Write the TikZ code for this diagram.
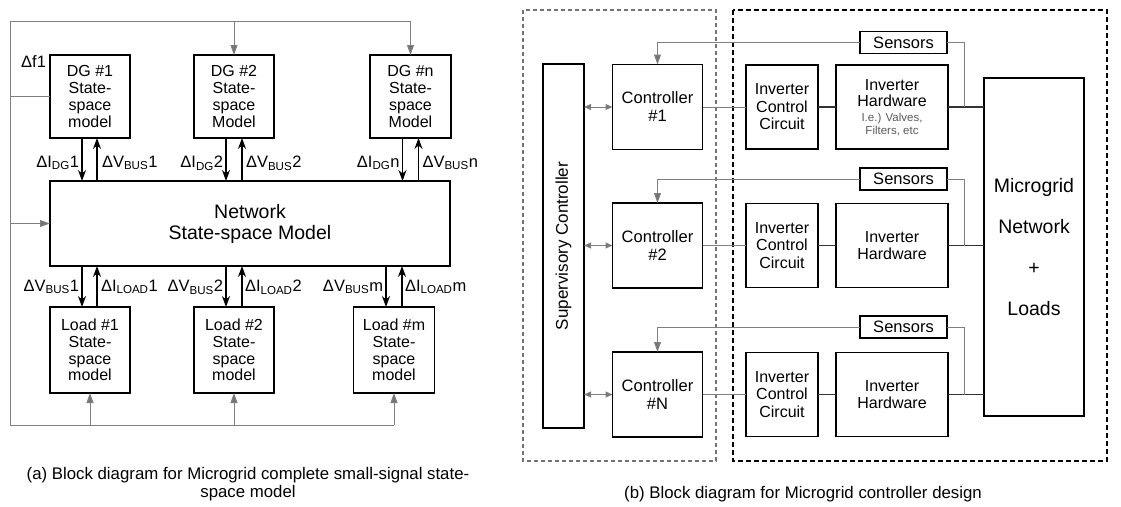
\documentclass[tikz,border=0pt]{standalone}
\usepackage{fontspec}
\setmainfont{Liberation Sans}
\usepackage{tikz}
\usetikzlibrary{calc,arrows.meta}

\begin{document}
\begin{tikzpicture}[x=1pt, y=-1pt, inner sep=0pt, outer sep=0pt,
    blk/.style={draw, line width=1.3pt, align=center, font=\fontsize{16}{16.8}\selectfont},
    lbl/.style={font=\fontsize{16.5}{18}\selectfont},
    sig/.style={line width=1.1pt, -{Stealth[length=11pt,width=8pt]}},
    fb/.style={draw=black!50, line width=1pt},
    fbarr/.style={fb, -{Triangle[length=10pt,width=7pt,fill=black!55]}},
    fbboth/.style={fb, {Triangle[length=7pt,width=6pt,fill=black!55]}-{Triangle[length=7pt,width=6pt,fill=black!55]}},
    hw/.style={line width=1.2pt, draw=black!80}]
    \useasboundingbox (0,0) rectangle (1121,506);

    % small-signal model: DG blocks
    \node[blk, minimum width=80pt, minimum height=83pt] (dg_one) at (90, 96.5)
    {DG \#1\\State-\\space\\model};
    \node[blk, minimum width=80pt, minimum height=83pt] (dg_two) at (234, 96.5)
    {DG \#2\\State-\\space\\Model};
    \node[blk, minimum width=81pt, minimum height=83pt] (dg_n) at (410.5, 96.5)
    {DG \#n\\State-\\space\\Model};

    % network
    \node[blk, minimum width=400pt, minimum height=85pt,
          font=\fontsize{19.5}{21}\selectfont] (net) at (250, 223.5)
    {Network\\State-space Model};

    % loads
    \node[blk, minimum width=80pt, minimum height=86pt] (load_one) at (90, 350)
    {Load \#1\\State-\\space\\model};
    \node[blk, minimum width=80pt, minimum height=86pt] (load_two) at (234, 350)
    {Load \#2\\State-\\space\\model};
    \node[blk, minimum width=81pt, minimum height=86pt] (load_m) at (394, 350)
    {Load \#m\\State-\\space\\model};

    % DG <-> network signals
    \draw[sig] ([xshift=-8pt]dg_one.south) -- ([xshift=-8pt]dg_one.south |- net.north);
    \draw[sig] ([xshift=7pt]dg_one.south |- net.north) -- ([xshift=7pt]dg_one.south);
    \draw[sig] ([xshift=-8pt]dg_two.south) -- ([xshift=-8pt]dg_two.south |- net.north);
    \draw[sig] ([xshift=8pt]dg_two.south |- net.north) -- ([xshift=8pt]dg_two.south);
    \draw[sig] ([xshift=-8pt]dg_n.south) -- ([xshift=-8pt]dg_n.south |- net.north);
    \draw[sig] ([xshift=8pt]dg_n.south |- net.north) -- ([xshift=8pt]dg_n.south);

    \node[lbl, anchor=east] (i_dg_one) at ($(dg_one.south)+(-11, 25)$) {ΔI\textsubscript{DG}1};
    \node[lbl, anchor=west] (v_bus_one) at ($(dg_one.south)+(12, 25)$) {ΔV\textsubscript{BUS}1};
    \node[lbl, anchor=east] (i_dg_two) at ($(dg_two.south)+(-11, 25)$) {ΔI\textsubscript{DG}2};
    \node[lbl, anchor=west] (v_bus_two) at ($(dg_two.south)+(12, 25)$) {ΔV\textsubscript{BUS}2};
    \node[lbl, anchor=east] (i_dg_n) at ($(dg_n.south)+(-11, 25)$) {ΔI\textsubscript{DG}n};
    \node[lbl, anchor=west] (v_bus_n) at ($(dg_n.south)+(12, 25)$) {ΔV\textsubscript{BUS}n};

    % network <-> load signals
    \draw[sig] ([xshift=-8pt]load_one.north |- net.south) -- ([xshift=-8pt]load_one.north);
    \draw[sig] ([xshift=7pt]load_one.north) -- ([xshift=7pt]load_one.north |- net.south);
    \draw[sig] ([xshift=-8pt]load_two.north |- net.south) -- ([xshift=-8pt]load_two.north);
    \draw[sig] ([xshift=8pt]load_two.north) -- ([xshift=8pt]load_two.north |- net.south);
    \draw[sig] ([xshift=-8pt]load_m.north |- net.south) -- ([xshift=-8pt]load_m.north);
    \draw[sig] ([xshift=8pt]load_m.north) -- ([xshift=8pt]load_m.north |- net.south);

    \node[lbl, anchor=east] (v_load_one) at ($(load_one.north)+(-11, -20)$) {ΔV\textsubscript{BUS}1};
    \node[lbl, anchor=west] (i_load_one) at ($(load_one.north)+(11, -20)$) {ΔI\textsubscript{LOAD}1};
    \node[lbl, anchor=east] (v_load_two) at ($(load_two.north)+(-11, -20)$) {ΔV\textsubscript{BUS}2};
    \node[lbl, anchor=west] (i_load_two) at ($(load_two.north)+(11, -20)$) {ΔI\textsubscript{LOAD}2};
    \node[lbl, anchor=east] (v_load_m) at ($(load_m.north)+(-11, -20)$) {ΔV\textsubscript{BUS}m};
    \node[lbl, anchor=west] (i_load_m) at ($(load_m.north)+(11, -20)$) {ΔI\textsubscript{LOAD}m};

    % frequency feedback loop
    \coordinate (fb_tl) at (10, 21);
    \coordinate (fb_bl) at (10, 425);
    \draw[fb] (dg_n.north |- fb_tl) -- (fb_tl) -- (fb_bl) -- (fb_bl -| load_m.south);
    \draw[fbarr] (dg_two.north |- fb_tl) -- (dg_two.north);
    \draw[fbarr] (dg_n.north |- fb_tl) -- (dg_n.north);
    \draw[fb] (fb_tl |- dg_one.west) -- (dg_one.west);
    \draw[fbarr] (fb_tl |- net.west) -- (net.west);
    \draw[fbarr] (load_one.south |- fb_bl) -- (load_one.south);
    \draw[fbarr] (load_two.south |- fb_bl) -- (load_two.south);
    \draw[fbarr] (load_m.south |- fb_bl) -- (load_m.south);
    \node[lbl, anchor=east] (df_one) at ($(dg_one.north west)+(-4, 7)$) {Δf1};

    \node[lbl, align=center, font=\fontsize{16.8}{18}\selectfont] (cap_a) at (248, 484)
    {(a) Block diagram for Microgrid complete small-signal state-\\space model};

    % controller design: groups
    \draw[draw=black!55, line width=1.5pt, dash pattern=on 4pt off 3pt] (523, 10) rectangle (716, 461);
    \draw[line width=2pt, dash pattern=on 5pt off 3pt] (733, 10) rectangle (1107, 461);

    % supervisory controller
    \node[blk, minimum width=41pt, minimum height=364pt] (sup) at (563.5, 246) {};
    \node[lbl, rotate=90, font=\fontsize{17}{18}\selectfont] (sup_txt) at (sup.center) {Supervisory Controller};

    % controllers
    \node[blk, minimum width=90pt, minimum height=85pt, font=\fontsize{16.5}{18}\selectfont] (ctrl_one) at (657.5, 107)
    {Controller\\\#1};
    \node[blk, minimum width=90pt, minimum height=85pt, font=\fontsize{16.5}{18}\selectfont] (ctrl_two) at (657.5, 245.5)
    {Controller\\\#2};
    \node[blk, minimum width=90pt, minimum height=85pt, font=\fontsize{16.5}{18}\selectfont] (ctrl_n) at (657.5, 394.5)
    {Controller\\\#N};

    % inverter control circuits
    \node[blk, minimum width=72pt, minimum height=84pt, font=\fontsize{16}{17.5}\selectfont] (icc_one) at (782, 107)
    {Inverter\\Control\\Circuit};
    \node[blk, minimum width=72pt, minimum height=84pt, font=\fontsize{16}{17.5}\selectfont] (icc_two) at (782, 245.5)
    {Inverter\\Control\\Circuit};
    \node[blk, minimum width=72pt, minimum height=84pt, font=\fontsize{16}{17.5}\selectfont] (icc_n) at (782, 394.5)
    {Inverter\\Control\\Circuit};

    % inverter hardware
    \node[blk, minimum width=112pt, minimum height=84pt] (ih_one) at (892, 107) {};
    \node[lbl, align=center, font=\fontsize{16}{16.5}\selectfont] (ih_one_txt) at ($(ih_one.center)+(0, -14)$)
    {Inverter\\Hardware};
    \node[lbl, align=center, text=black!65, font=\fontsize{11.5}{13}\selectfont] (ih_one_note) at ($(ih_one.center)+(0, 17.5)$)
    {I.e.) Valves,\\Filters, etc};
    \node[blk, minimum width=112pt, minimum height=84pt, font=\fontsize{16}{17}\selectfont] (ih_two) at (892, 245.5)
    {Inverter\\Hardware};
    \node[blk, minimum width=112pt, minimum height=84pt, font=\fontsize{16}{17}\selectfont] (ih_n) at (892, 394.5)
    {Inverter\\Hardware};

    % sensors
    \node[blk, minimum width=87pt, minimum height=22pt, font=\fontsize{16.5}{17}\selectfont] (sens_one) at (903.5, 42.5) {Sensors};
    \node[blk, minimum width=87pt, minimum height=22pt, font=\fontsize{16.5}{17}\selectfont] (sens_two) at (903.5, 179) {Sensors};
    \node[blk, minimum width=87pt, minimum height=22pt, font=\fontsize{16.5}{17}\selectfont] (sens_n) at (903.5, 327) {Sensors};

    % microgrid
    \node[blk, minimum width=100pt, minimum height=338pt, font=\fontsize{19.5}{41}\selectfont] (mg) at (1034, 247)
    {Microgrid\\Network\\+\\Loads};

    % links
    \draw[fbboth] (sup.east |- ctrl_one.west) -- (ctrl_one.west);
    \draw[fbboth] (sup.east |- ctrl_two.west) -- (ctrl_two.west);
    \draw[fbboth] (sup.east |- ctrl_n.west) -- (ctrl_n.west);

    \draw[fb] (ctrl_one.east) -- (icc_one.west);
    \draw[fb] (ctrl_two.east) -- (icc_two.west);
    \draw[fb] (ctrl_n.east) -- (icc_n.west);

    \draw[hw] (icc_one.east) -- (ih_one.west);
    \draw[hw] (icc_two.east) -- (ih_two.west);
    \draw[hw] (icc_n.east) -- (ih_n.west);

    \draw[hw] (ih_one.east) -- (ih_one.east -| mg.west);
    \draw[hw] (ih_two.east) -- (ih_two.east -| mg.west);
    \draw[hw] (ih_n.east) -- (ih_n.east -| mg.west);

    \draw[fb] (sens_one.east) -| ($(ih_one.east)!0.45!(ih_one.east -| mg.west)$);
    \draw[fb] (sens_two.east) -| ($(ih_two.east)!0.45!(ih_two.east -| mg.west)$);
    \draw[fb] (sens_n.east) -| ($(ih_n.east)!0.45!(ih_n.east -| mg.west)$);

    \draw[fbarr] (sens_one.west) -| (ctrl_one.north);
    \draw[fbarr] (sens_two.west) -| (ctrl_two.north);
    \draw[fbarr] (sens_n.west) -| (ctrl_n.north);

    \node[lbl, font=\fontsize{16.8}{18}\selectfont] (cap_b) at (803, 494) {(b) Block diagram for Microgrid controller design};

\end{tikzpicture}
\end{document}
